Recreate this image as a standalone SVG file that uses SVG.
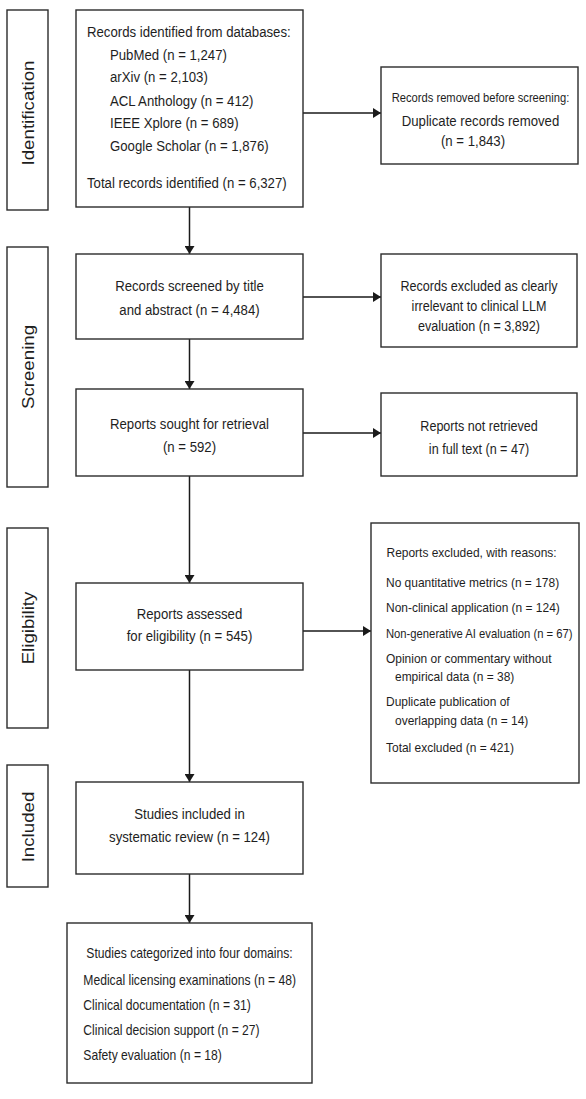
<svg xmlns="http://www.w3.org/2000/svg" width="586" height="1099" viewBox="0 0 586 1099">
<style>
.bg{fill:#ffffff}
.box{fill:#ffffff;stroke:#2b2b2b;stroke-width:1.4}
.edge{fill:none;stroke:#1a1a1a;stroke-width:1.5}
text{font-family:"Liberation Sans",Arial,sans-serif;fill:#1e1e1e}
.m{font-size:15px}
.c{text-anchor:middle}
.s{font-size:14.3px}
.h1{font-size:12.7px}
.r4{font-size:13.6px}
.b6{font-size:13.8px}
.ph{font-size:18.7px;text-anchor:middle}
</style>
<defs>
<marker id="ah" viewBox="0 0 8 10" refX="8" refY="5" markerWidth="8" markerHeight="10" markerUnits="userSpaceOnUse" orient="auto">
<path d="M0,0 L8,5 L0,10 z" fill="#1a1a1a"/>
</marker>
</defs>
<rect class="bg" x="0" y="0" width="586" height="1099"/>

<g id="phase-identification">
<rect class="box" x="7" y="10" width="41" height="200"/>
<text class="ph" transform="translate(33.5,113) scale(0.88,1) rotate(-90)">Identification</text>
</g>
<g id="phase-screening">
<rect class="box" x="7" y="247" width="41" height="240"/>
<text class="ph" transform="translate(33.5,367) scale(0.88,1) rotate(-90)">Screening</text>
</g>
<g id="phase-eligibility">
<rect class="box" x="7" y="528" width="41" height="200"/>
<text class="ph" transform="translate(33.5,628) scale(0.88,1) rotate(-90)">Eligibility</text>
</g>
<g id="phase-included">
<rect class="box" x="7" y="765" width="41" height="122"/>
<text class="ph" transform="translate(33.5,827) scale(0.88,1) rotate(-90)">Included</text>
</g>

<g id="connectors">
<line class="edge" x1="189.5" y1="207" x2="189.5" y2="254" marker-end="url(#ah)"/>
<line class="edge" x1="189.5" y1="339" x2="189.5" y2="389" marker-end="url(#ah)"/>
<line class="edge" x1="189.5" y1="476" x2="189.5" y2="583" marker-end="url(#ah)"/>
<line class="edge" x1="189.5" y1="670" x2="189.5" y2="782" marker-end="url(#ah)"/>
<line class="edge" x1="189.5" y1="874" x2="189.5" y2="923" marker-end="url(#ah)"/>
<line class="edge" x1="303" y1="113" x2="381" y2="113" marker-end="url(#ah)"/>
<line class="edge" x1="303" y1="297" x2="381" y2="297" marker-end="url(#ah)"/>
<line class="edge" x1="303" y1="433" x2="381" y2="433" marker-end="url(#ah)"/>
<line class="edge" x1="303" y1="631" x2="371" y2="631" marker-end="url(#ah)"/>
</g>

<g id="records-identified">
<rect class="box" x="76" y="10" width="227" height="197"/>
<text class="m" transform="translate(87,36.5) scale(0.88,1)">Records identified from databases:</text>
<text class="m" transform="translate(110,59.5) scale(0.88,1)">PubMed (n = 1,247)</text>
<text class="m" transform="translate(110,82) scale(0.88,1)">arXiv (n = 2,103)</text>
<text class="m" transform="translate(110,105.5) scale(0.88,1)">ACL Anthology (n = 412)</text>
<text class="m" transform="translate(110,128) scale(0.88,1)">IEEE Xplore (n = 689)</text>
<text class="m" transform="translate(110,151) scale(0.88,1)">Google Scholar (n = 1,876)</text>
<text class="m" transform="translate(87,188) scale(0.88,1)">Total records identified (n = 6,327)</text>
</g>

<g id="records-removed">
<rect class="box" x="381" y="67" width="197" height="97"/>
<text class="h1 c" transform="translate(480.5,102) scale(0.88,1)">Records removed before screening:</text>
<text class="m c" transform="translate(480.5,125.5) scale(0.88,1)">Duplicate records removed</text>
<text class="m c" transform="translate(473,146) scale(0.88,1)">(n = 1,843)</text>
</g>

<g id="records-screened">
<rect class="box" x="76" y="254" width="227" height="85"/>
<text class="m c" transform="translate(189.5,291) scale(0.88,1)">Records screened by title</text>
<text class="m c" transform="translate(189.5,315) scale(0.88,1)">and abstract (n = 4,484)</text>
</g>

<g id="records-excluded">
<rect class="box" x="381" y="254" width="196" height="93"/>
<text class="s c" transform="translate(479,291) scale(0.88,1)">Records excluded as clearly</text>
<text class="s c" transform="translate(479,311) scale(0.88,1)">irrelevant to clinical LLM</text>
<text class="s c" transform="translate(479,331) scale(0.88,1)">evaluation (n = 3,892)</text>
</g>

<g id="reports-sought">
<rect class="box" x="76" y="389" width="227" height="87"/>
<text class="m c" transform="translate(189.5,429) scale(0.88,1)">Reports sought for retrieval</text>
<text class="m c" transform="translate(189.5,452) scale(0.88,1)">(n = 592)</text>
</g>

<g id="reports-not-retrieved">
<rect class="box" x="381" y="393" width="196" height="83"/>
<text class="s c" transform="translate(479,430.5) scale(0.88,1)">Reports not retrieved</text>
<text class="s c" transform="translate(479,454) scale(0.88,1)">in full text (n = 47)</text>
</g>

<g id="reports-assessed">
<rect class="box" x="76" y="583" width="227" height="87"/>
<text class="m c" transform="translate(189.5,619) scale(0.88,1)">Reports assessed</text>
<text class="m c" transform="translate(189.5,641) scale(0.88,1)">for eligibility (n = 545)</text>
</g>

<g id="reports-excluded">
<rect class="box" x="371" y="523" width="208" height="260"/>
<text class="r4" transform="translate(386.5,556.5) scale(0.88,1)">Reports excluded, with reasons:</text>
<text class="r4" transform="translate(386,586.5) scale(0.88,1)">No quantitative metrics (n = 178)</text>
<text class="r4" transform="translate(386,612) scale(0.88,1)">Non-clinical application (n = 124)</text>
<text class="r4" transform="translate(386,637.5) scale(0.88,1)" textLength="212" lengthAdjust="spacingAndGlyphs">Non-generative AI evaluation (n = 67)</text>
<text class="r4" transform="translate(386,663) scale(0.88,1)">Opinion or commentary without</text>
<text class="r4" transform="translate(395,680.5) scale(0.88,1)">empirical data (n = 38)</text>
<text class="r4" transform="translate(386,705.5) scale(0.88,1)">Duplicate publication of</text>
<text class="r4" transform="translate(395,724.5) scale(0.88,1)">overlapping data (n = 14)</text>
<text class="r4" transform="translate(386,751.5) scale(0.88,1)">Total excluded (n = 421)</text>
</g>

<g id="studies-included">
<rect class="box" x="76" y="782" width="227" height="92"/>
<text class="m c" transform="translate(189.5,819) scale(0.88,1)">Studies included in</text>
<text class="m c" transform="translate(189.5,842) scale(0.88,1)">systematic review (n = 124)</text>
</g>

<g id="studies-categorized">
<rect class="box" x="67" y="923" width="245" height="160"/>
<text class="b6 c" transform="translate(189.5,957.5) scale(0.88,1)">Studies categorized into four domains:</text>
<text class="b6" transform="translate(83.3,985) scale(0.88,1)">Medical licensing examinations (n = 48)</text>
<text class="b6" transform="translate(83.3,1010) scale(0.88,1)">Clinical documentation (n = 31)</text>
<text class="b6" transform="translate(83.3,1034.5) scale(0.88,1)">Clinical decision support (n = 27)</text>
<text class="b6" transform="translate(83.3,1060) scale(0.88,1)">Safety evaluation (n = 18)</text>
</g>
</svg>
